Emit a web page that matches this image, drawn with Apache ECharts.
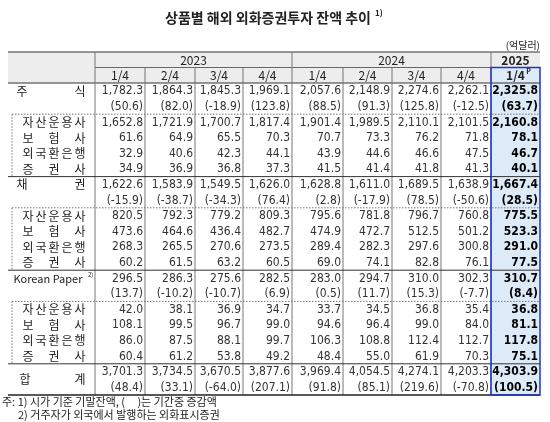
<!DOCTYPE html><html><head><meta charset="utf-8">
<script src="https://cdn.jsdelivr.net/npm/echarts@6/dist/echarts.min.js"></script>
<style>html,body{margin:0;background:#fff}#c{width:550px;height:422px}</style></head><body><div id="c"></div>
<script>
const years=['2023','2024','2025'];
const quarters=['1/4','2/4','3/4','4/4','1/4','2/4','3/4','4/4','1/4'];
const stock=[1782.3,1864.3,1845.3,1969.1,2057.6,2148.9,2274.6,2262.1,2325.8];
const stockChg=[50.6,82.0,-18.9,123.8,88.5,91.3,125.8,-12.5,63.7];
const sAsset=[1652.8,1721.9,1700.7,1817.4,1901.4,1989.5,2110.1,2101.5,2160.8];
const sIns=[61.6,64.9,65.5,70.3,70.7,73.3,76.2,71.8,78.1];
const sBank=[32.9,40.6,42.3,44.1,43.9,44.6,46.6,47.5,46.7];
const sSec=[34.9,36.9,36.8,37.3,41.5,41.4,41.8,41.3,40.1];
const bond=[1622.6,1583.9,1549.5,1626.0,1628.8,1611.0,1689.5,1638.9,1667.4];
const bondChg=[-15.9,-38.7,-34.3,76.4,2.8,-17.9,78.5,-50.6,28.5];
const bAsset=[820.5,792.3,779.2,809.3,795.6,781.8,796.7,760.8,775.5];
const bIns=[473.6,464.6,436.4,482.7,474.9,472.7,512.5,501.2,523.3];
const bBank=[268.3,265.5,270.6,273.5,289.4,282.3,297.6,300.8,291.0];
const bSec=[60.2,61.5,63.2,60.5,69.0,74.1,82.8,76.1,77.5];
const kp=[296.5,286.3,275.6,282.5,283.0,294.7,310.0,302.3,310.7];
const kpChg=[13.7,-10.2,-10.7,6.9,0.5,11.7,15.3,-7.7,8.4];
const kAsset=[42.0,38.1,36.9,34.7,33.7,34.5,36.8,35.4,36.8];
const kIns=[108.1,99.5,96.7,99.0,94.6,96.4,99.0,84.0,81.1];
const kBank=[86.0,87.5,88.1,99.7,106.3,108.8,112.4,112.7,117.8];
const kSec=[60.4,61.2,53.8,49.2,48.4,55.0,61.9,70.3,75.1];
const total=[3701.3,3734.5,3670.5,3877.6,3969.4,4054.5,4274.1,4203.3,4303.9];
const totalChg=[48.4,33.1,-64.0,207.1,91.8,85.1,219.6,-70.8,100.5];
const subLabels=['자산운용사','보험사','외국환은행','증권사'];

const rows=[
 {main:['주','식'],v:stock},{v:stockChg,chg:1},
 {sub:0,v:sAsset},{sub:1,v:sIns},{sub:2,v:sBank},{sub:3,v:sSec},
 {main:['채','권'],v:bond},{v:bondChg,chg:1},
 {sub:0,v:bAsset},{sub:1,v:bIns},{sub:2,v:bBank},{sub:3,v:bSec},
 {kp:1,v:kp},{v:kpChg,chg:1},
 {sub:0,v:kAsset},{sub:1,v:kIns},{sub:2,v:kBank},{sub:3,v:kSec},
 {tot:1,v:total},{v:totalChg,chg:1}
];
const colX=[8,95,145,195,243,292,343,392,441,491,540];
const top0=52,hRow=15.5,dataTop=83,rh=15.6;
const F='"Noto Sans CJK KR","Noto Sans",sans-serif';
const N='"Liberation Sans Narrow","DejaVu Sans Condensed","Noto Sans",sans-serif';
const g=[];
const fmt=(x)=>x.toLocaleString('en-US',{minimumFractionDigits:1,maximumFractionDigits:1});
const line=(x1,y1,x2,y2,c,dash,w)=>g.push({type:'line',shape:{x1,y1,x2,y2},style:{stroke:c||'#555',lineWidth:w||1,lineDash:dash?[1.5,1.5]:null},z:5});
const txt=(x,y,t,o)=>g.push(Object.assign({type:'text',x,y,style:Object.assign({text:t,fill:'#222',font:'12px '+F,textAlign:'center',textVerticalAlign:'middle'},o||{})},{z:10}));
// title
txt(268,18,'상품별 해외 외화증권투자 잔액 추이',{font:'bold 14px '+F});
txt(375,13,'1)',{font:'bold 8px '+F,textAlign:'left'});
txt(540,45,'(억달러)',{font:'10px '+F,textAlign:'right'});
// header bg
g.push({type:'rect',shape:{x:8,y:top0,width:532,height:31},style:{fill:'#ededed'},z:1});
const bottom=dataTop+rh*20;
g.push({type:'rect',shape:{x:colX[9],y:top0+hRow,width:colX[10]-colX[9],height:bottom-top0-hRow},style:{fill:'#ddeaf8'},z:2});
// header text
txt((colX[1]+colX[5])/2,top0+8,years[0],{font:'12px '+F});
txt((colX[5]+colX[9])/2,top0+8,years[1],{font:'12px '+F});
txt((colX[9]+colX[10])/2,top0+8,years[2],{font:'bold 12px '+F});
quarters.forEach((q,i)=>{const b=i===8;txt((colX[i+1]+colX[i+2])/2,top0+hRow+8,q,{font:(b?'bold ':'')+'12px '+F});});
txt((colX[9]+colX[10])/2+13,top0+hRow+4,'P',{font:'bold 7px '+F});
// header lines
line(8,top0,540,top0,'#333');
line(colX[1],top0+hRow,540,top0+hRow,'#666');
line(8,dataTop,540,dataTop,'#333');
[1,5,9].forEach(i=>line(colX[i],top0,colX[i],dataTop,'#777'));
[2,3,4,6,7,8].forEach(i=>line(colX[i],top0+hRow,colX[i],dataTop,'#777'));
for(let i=1;i<10;i++) line(colX[i],dataTop,colX[i],bottom,'#777');
// rows
rows.forEach((r,ri)=>{
 const y=dataTop+ri*rh, cy=y+rh/2+0.5;
 r.v.forEach((v,i)=>{
  const b=i===8;
  const s=r.chg?'('+fmt(v)+')':fmt(v);
  txt(colX[i+2]-2,cy,s,{textAlign:'right',font:(b?'bold ':'')+'12px '+N,fill:b?'#000':'#333'});
 });
 if(r.main){txt(22,cy,r.main[0]);txt(80,cy,r.main[1]);}
 if(r.sub!==undefined){
  const chars=[...subLabels[r.sub]];const x0=28,x1=80;
  chars.forEach((c,k)=>txt(x0+(x1-x0)*k/(chars.length-1),cy,c,{font:'12px '+F}));
 }
 if(r.kp){txt(48,cy,'Korean Paper',{font:'11px '+F});txt(88,cy-4,'2)',{font:'6px '+F,textAlign:'left'});}
 if(r.tot){txt(25,cy+rh/2,'합');txt(80,cy+rh/2,'계');}
});
const sep=(ri,dash,from)=>line(from||8,dataTop+ri*rh,540,dataTop+ri*rh,dash?'#777':'#333',dash);
sep(2,1,12);sep(6,0);sep(8,1,12);sep(12,0);sep(14,1,12);sep(18,0);
line(8,bottom,540,bottom,'#222',0,1.3);
[[2,6],[8,12],[14,18]].forEach(([a,b])=>line(12,dataTop+a*rh,12,dataTop+b*rh,'#777',1));
g.push({type:'rect',shape:{x:colX[9],y:top0+hRow,width:colX[10]-colX[9],height:bottom-top0-hRow},style:{fill:null,stroke:'#2233cc',lineWidth:1.5},z:12});
// footnotes
txt(2,bottom+7,'주: 1) 시가 기준 기말잔액, (     )는 기간중 증감액',{textAlign:'left',font:'11px '+F});
txt(18,bottom+20,'2) 거주자가 외국에서 발행하는 외화표시증권',{textAlign:'left',font:'11px '+F});
const ch=echarts.init(document.getElementById('c'));
ch.setOption({animation:false,graphic:{elements:g}});
</script></body></html>
